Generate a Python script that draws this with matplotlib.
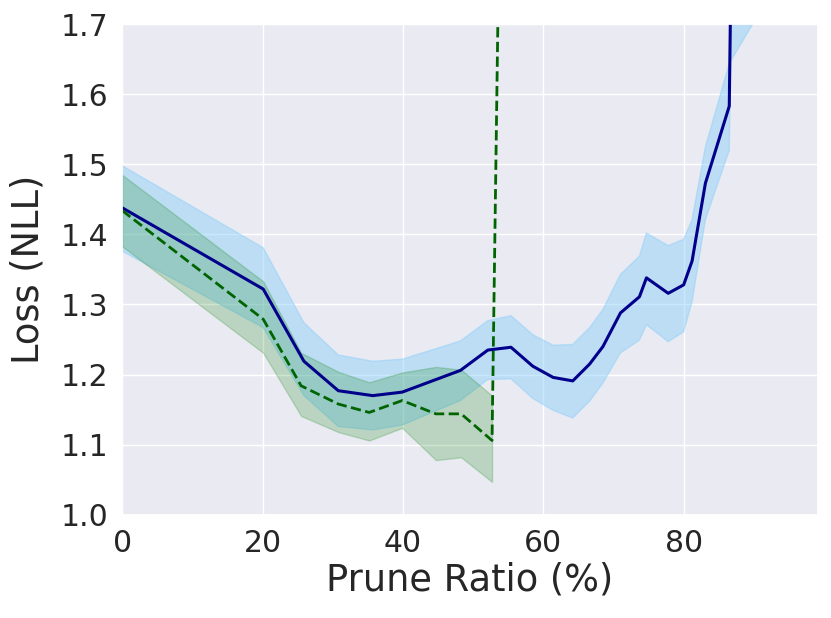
import numpy as np
import matplotlib
matplotlib.use("Agg")
import matplotlib.pyplot as plt
import seaborn as sns

# solid series (mean and band)
blue_x = [0, 20.1, 25.9, 30.8, 35.7, 39.9, 48.2, 52.1, 55.4, 58.5, 61.4, 64.2,
          66.6, 68.5, 71.0, 73.7, 74.7, 77.8, 80.0, 81.2, 83.1, 86.5, 94.6]
blue_mean = [1.438, 1.322, 1.219, 1.177, 1.170, 1.175, 1.206, 1.235, 1.239, 1.212,
             1.196, 1.191, 1.215, 1.240, 1.288, 1.311, 1.338, 1.316, 1.328, 1.362,
             1.473, 1.583, 8.0]
blue_upper = [1.498, 1.381, 1.274, 1.228, 1.219, 1.222, 1.248, 1.277, 1.284, 1.257,
              1.242, 1.243, 1.267, 1.293, 1.343, 1.369, 1.402, 1.384, 1.393, 1.421,
              1.525, 1.644, 1.78]
blue_lower = [1.376, 1.267, 1.170, 1.126, 1.121, 1.128, 1.163, 1.193, 1.194, 1.166,
              1.149, 1.138, 1.162, 1.188, 1.231, 1.249, 1.271, 1.247, 1.261, 1.304,
              1.421, 1.520, 7.0]

# dashed series
green_x = [0, 20.1, 25.5, 30.8, 35.2, 39.9, 44.7, 48.3, 52.7, 55.4]
green_mean = [1.434, 1.279, 1.184, 1.158, 1.146, 1.163, 1.144, 1.144, 1.106, 3.05]
green_upper = [1.485, 1.333, 1.231, 1.204, 1.189, 1.203, 1.211, 1.207, 1.170]
green_lower = [1.383, 1.231, 1.141, 1.118, 1.106, 1.124, 1.078, 1.082, 1.047]

sns.set_theme(style="darkgrid")
plt.rcParams['font.family'] = ['DejaVu Sans']

fig, ax = plt.subplots(figsize=(8.31, 6.18), dpi=100)
fig.subplots_adjust(left=0.147, right=0.984, bottom=0.167, top=0.961)

ax.fill_between(blue_x, blue_lower, blue_upper, color='lightskyblue', alpha=0.45, lw=1)
ax.fill_between(green_x[:len(green_upper)], green_lower, green_upper,
                color='green', alpha=0.2, lw=1)
ax.plot(blue_x, blue_mean, color='darkblue', lw=2.2)
ax.plot(green_x, green_mean, color='darkgreen', lw=2.0, ls='--')

ax.set_xlim(0, 99.1)
ax.set_ylim(1.0, 1.7)
ax.set_xticks([0, 20, 40, 60, 80])
ax.set_yticks(np.arange(1.0, 1.71, 0.1))
ax.tick_params(labelsize=21.5, pad=4)
ax.set_xlabel('Prune Ratio (%)', fontsize=26.5, labelpad=3)
ax.set_ylabel('Loss (NLL)', fontsize=26.5, labelpad=10)

fig.savefig('out.png', dpi=100)
